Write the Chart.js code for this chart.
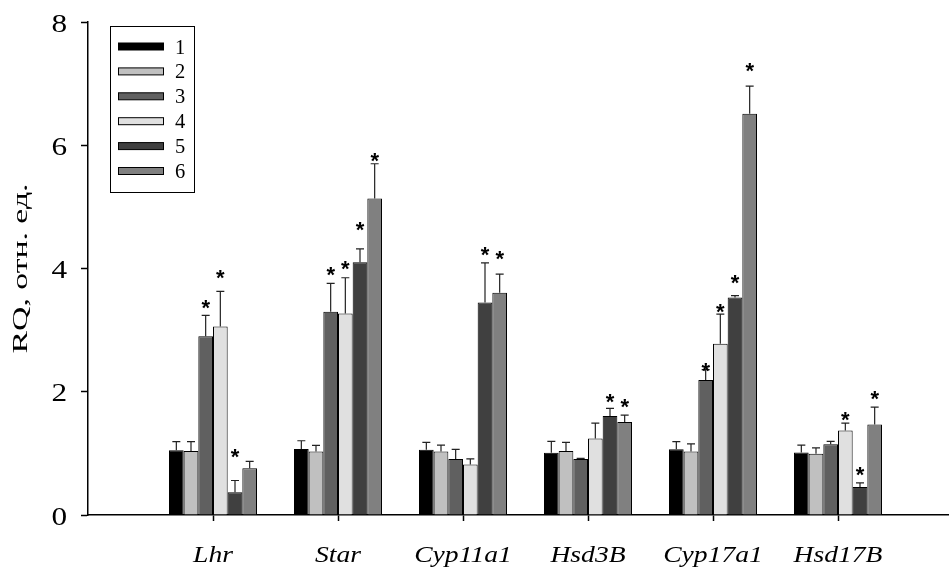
<!DOCTYPE html>
<html>
<head>
<meta charset="utf-8">
<script src="https://cdn.jsdelivr.net/npm/chart.js@4.4.1/dist/chart.umd.min.js"></script>
<style>
    body { margin: 0; background: #fff; }
</style>
</head>
<body>
<canvas id="chart" width="950" height="568"></canvas>
<script>
const genes = ['Lhr', 'Star', 'Cyp11a1', 'Hsd3B', 'Cyp17a1', 'Hsd17B'];
const groupNames = ['1', '2', '3', '4', '5', '6'];
const yTicks = [0, 2, 4, 6, 8];
const yTitle = 'RQ, отн. ед.';

// mean values per group (one entry per gene)
const group1 = [1.05, 1.07, 1.06, 1.01, 1.065, 1.015];
const group2 = [1.04, 1.03, 1.03, 1.04, 1.03, 0.995];
const group3 = [2.90, 3.30, 0.91, 0.91, 2.19, 1.15];
const group4 = [3.06, 3.27, 0.82, 1.24, 2.78, 1.37];
const group5 = [0.37, 4.10, 3.45, 1.605, 3.53, 0.455];
const group6 = [0.757, 5.135, 3.605, 1.51, 6.51, 1.47];

// upper error (SEM)
const err1 = [0.14, 0.135, 0.12, 0.185, 0.125, 0.12];
const err2 = [0.15, 0.10, 0.105, 0.14, 0.125, 0.095];
const err3 = [0.34, 0.46, 0.155, 0.01, 0.17, 0.045];
const err4 = [0.57, 0.58, 0.09, 0.25, 0.48, 0.12];
const err5 = [0.19, 0.22, 0.64, 0.125, 0.03, 0.065];
const err6 = [0.113, 0.565, 0.305, 0.11, 0.45, 0.28];

// height of the significance asterisk (null = none)
const star1 = [null, null, null, null, null, null];
const star2 = [null, null, null, null, null, null];
const star3 = [3.46, 3.98, null, null, 2.43, null];
const star4 = [3.945, 4.09, null, null, 3.39, 1.64];
const star5 = [1.04, 4.72, 4.32, 1.92, 3.86, 0.74];
const star6 = [null, 5.84, 4.24, 1.84, 7.30, 1.97];

const colors = ['#000000', '#c0c0c0', '#606060', '#e0e0e0', '#404040', '#808080'];

const means = [group1, group2, group3, group4, group5, group6];
const errors = [err1, err2, err3, err4, err5, err6];
const stars = [star1, star2, star3, star4, star5, star6];

const serif = "'Liberation Serif', 'Times New Roman', serif";

// draw text squeezed/stretched along its own direction
function stretchedText(ctx, text, x, y, sx, align) {
    ctx.save();
    ctx.translate(x, y);
    ctx.scale(sx, 1);
    ctx.textAlign = align;
    ctx.textBaseline = 'alphabetic';
    ctx.fillText(text, 0, 0);
    ctx.restore();
}

const errorBarsPlugin = {
    id: 'errorBars',
    afterDatasetsDraw(chart) {
        const ctx = chart.ctx;
        const yScale = chart.scales.y;
        ctx.save();
        chart.data.datasets.forEach((ds, i) => {
            const meta = chart.getDatasetMeta(i);
            meta.data.forEach((bar, j) => {
                const top = yScale.getPixelForValue(means[i][j] + errors[i][j]);
                ctx.strokeStyle = '#222';
                ctx.lineWidth = 1.2;
                ctx.beginPath();
                ctx.moveTo(bar.x, bar.y);
                ctx.lineTo(bar.x, top);
                ctx.moveTo(bar.x - 4, top);
                ctx.lineTo(bar.x + 4, top);
                ctx.stroke();

                if (stars[i][j] !== null) {
                    const sy = yScale.getPixelForValue(stars[i][j]);
                    ctx.fillStyle = '#000';
                    ctx.font = "bold 22px 'Liberation Sans', Arial, sans-serif";
                    ctx.textAlign = 'center';
                    ctx.textBaseline = 'alphabetic';
                    ctx.fillText('*', bar.x, sy + 0.58 * 22);
                }
            });
        });
        ctx.restore();
    }
};

const axisTextPlugin = {
    id: 'axisText',
    afterDraw(chart) {
        const ctx = chart.ctx;
        const area = chart.chartArea;
        const xScale = chart.scales.x;
        const yScale = chart.scales.y;
        ctx.save();
        ctx.fillStyle = '#000';

        // category names under the x axis
        ctx.font = 'italic 23px ' + serif;
        genes.forEach((g, j) => {
            stretchedText(ctx, g, xScale.getPixelForValue(j + 1), area.bottom + 47, 1.2, 'center');
        });

        // y tick numbers
        ctx.font = '25px ' + serif;
        yTicks.forEach(v => {
            stretchedText(ctx, String(v), area.left - 21, yScale.getPixelForValue(v) + 9.5, 1.25, 'right');
        });

        // rotated y title
        ctx.font = '22px ' + serif;
        const w = ctx.measureText(yTitle).width;
        ctx.save();
        ctx.translate(27, (area.top + area.bottom) / 2);
        ctx.rotate(-Math.PI / 2);
        stretchedText(ctx, yTitle, 0, 0, 170 / w, 'center');
        ctx.restore();

        ctx.restore();
    }
};

const legendPlugin = {
    id: 'boxLegend',
    afterDraw(chart) {
        const ctx = chart.ctx;
        const area = chart.chartArea;
        const left = area.left + 22;
        const top = area.top + 4;
        ctx.save();
        ctx.strokeStyle = '#000';
        ctx.lineWidth = 1;
        ctx.strokeRect(left + 0.5, top + 0.5, 84, 166);
        chart.data.datasets.forEach((ds, i) => {
            const cy = top + 20.5 + i * 24.9;
            ctx.fillStyle = ds.backgroundColor;
            ctx.fillRect(left + 8, cy - 3.5, 46, 7);
            ctx.strokeStyle = '#000';
            ctx.strokeRect(left + 8.5, cy - 3.5, 45, 7);
            ctx.fillStyle = '#000';
            ctx.font = '20.5px ' + serif;
            ctx.textAlign = 'left';
            ctx.textBaseline = 'alphabetic';
            ctx.fillText(ds.label, left + 65, cy + 7);
        });
        ctx.restore();
    }
};

const datasets = means.map((values, i) => ({
    label: groupNames[i],
    data: values.map((v, j) => ({ x: j + 1, y: v })),
    backgroundColor: colors[i],
    borderColor: '#000',
    borderWidth: 1,
    categoryPercentage: 0.704,
    barPercentage: 1.0
}));

new Chart(document.getElementById('chart'), {
    type: 'bar',
    data: { datasets: datasets },
    options: {
        responsive: false,
        animation: false,
        layout: { padding: { top: 22, right: 2, left: 0, bottom: 0 } },
        plugins: {
            legend: { display: false },
            tooltip: { enabled: false }
        },
        scales: {
            x: {
                type: 'linear',
                min: 0,
                max: 6.88,
                offset: false,
                afterFit(scale) { scale.height = 53; },
                afterBuildTicks(scale) {
                    scale.ticks = genes.map((g, j) => ({ value: j + 1 }));
                },
                grid: {
                    offset: false,
                    drawOnChartArea: false,
                    drawTicks: true,
                    tickLength: 6,
                    tickColor: '#000',
                    tickWidth: 1.5
                },
                border: { color: '#000', width: 1.5 },
                ticks: { display: false }
            },
            y: {
                min: 0,
                max: 8,
                afterFit(scale) { scale.width = 88; },
                afterBuildTicks(scale) {
                    scale.ticks = yTicks.map(v => ({ value: v }));
                },
                grid: {
                    drawOnChartArea: false,
                    drawTicks: true,
                    tickLength: 7,
                    tickColor: '#000',
                    tickWidth: 1.5
                },
                border: { color: '#000', width: 1.5 },
                ticks: { display: false }
            }
        }
    },
    plugins: [errorBarsPlugin, axisTextPlugin, legendPlugin]
});
</script>
</body>
</html>
